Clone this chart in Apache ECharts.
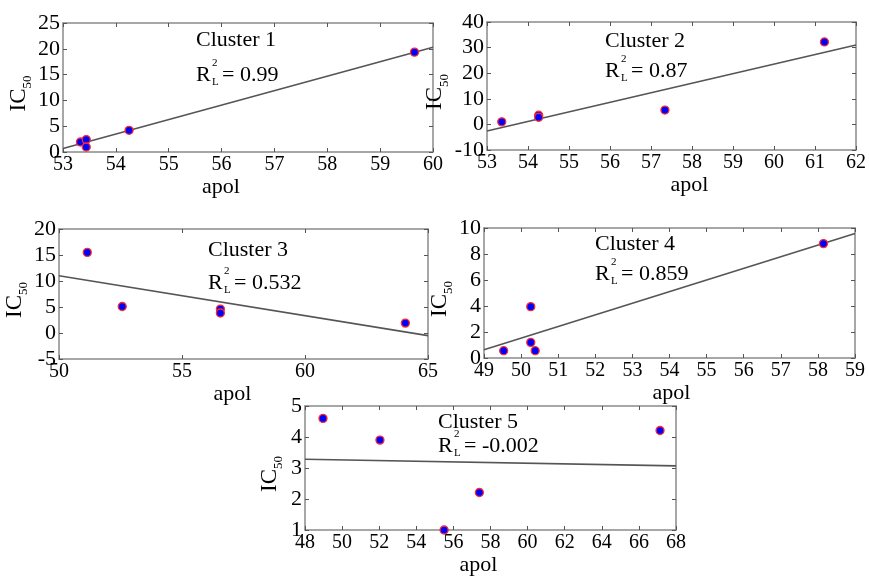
<!DOCTYPE html>
<html>
<head>
    <meta charset="UTF-8"/>
    <title>IC50 vs apol</title>
    <style>
        html, body { margin: 0; padding: 0; background: #fff; }
        #clusters { width: 869px; height: 577px; }
    </style>
</head>
<body>
<div id="clusters"></div>
<script type="text/javascript" src="https://cdn.jsdelivr.net/npm/echarts/dist/echarts.min.js"></script>
<script type="text/javascript">

    // values
    var clusterNames = ['Cluster 1', 'Cluster 2', 'Cluster 3', 'Cluster 4', 'Cluster 5'];
    var r2Values = ['0.99', '0.87', '0.532', '0.859', '-0.002'];

    var apol1 = [53.33, 53.44, 53.44, 54.25, 59.65];
    var ic1 = [1.94, 2.4, 0.97, 4.2, 19.35];
    var apol2 = [53.36, 54.26, 54.26, 57.34, 61.23];
    var ic2 = [1.0, 3.6, 2.8, 5.6, 32.2];
    var apol3 = [51.15, 52.57, 56.56, 56.56, 64.08];
    var ic3 = [15.5, 5.1, 4.6, 3.85, 1.9];
    var apol4 = [49.53, 50.26, 50.26, 50.38, 58.15];
    var ic4 = [0.56, 3.95, 1.2, 0.56, 8.8];
    var apol5 = [48.97, 52.04, 55.5, 57.4, 67.14];
    var ic5 = [4.6, 3.9, 1.0, 2.21, 4.21];

    // fitted lines, end points
    var fitX1 = [53, 60], fitY1 = [0.66, 20.3];
    var fitX2 = [53, 62], fitY2 = [-2.6, 31.0];
    var fitX3 = [50, 65], fitY3 = [11.0, -0.5];
    var fitX4 = [49, 59], fitY4 = [0.64, 9.57];
    var fitX5 = [48, 68], fitY5 = [3.28, 3.07];

    // axis ranges / ticks
    var xMin = [53, 53, 50, 49, 48];
    var xMax = [60, 62, 65, 59, 68];
    var xStep = [1, 1, 5, 1, 2];
    var yMin = [0, -10, -5, 0, 1];
    var yMax = [25, 40, 20, 10, 5];
    var yStep = [5, 10, 5, 2, 1];

    var apolList = [apol1, apol2, apol3, apol4, apol5];
    var icList = [ic1, ic2, ic3, ic4, ic5];
    var fitXList = [fitX1, fitX2, fitX3, fitX4, fitX5];
    var fitYList = [fitY1, fitY2, fitY3, fitY4, fitY5];

    // layout
    var grids = [
        {left: 63, top: 23, width: 370, height: 129},
        {left: 487, top: 22, width: 372, height: 128},
        {left: 59, top: 229, width: 369, height: 130},
        {left: 484, top: 228, width: 371, height: 130},
        {left: 305, top: 406, width: 371, height: 130}
    ];
    var apolShift = [-27, 18, -11, 2, -12];
    // [text left, title baseline, R baseline]
    var notes = [
        [196, 48, 83],
        [605, 49, 79],
        [208, 258, 291],
        [595, 252, 282],
        [438, 430, 454]
    ];

    var serif = 'Liberation Serif';
    var frame = {show: true, onZero: false, lineStyle: {color: '#8a8a8a', width: 1.5}};
    var ticks = {show: true, inside: true, length: 4, lineStyle: {color: '#555', width: 1}};

    const chart = echarts.init(document.getElementById('clusters'));

    var xAxes = [], yAxes = [], series = [], graphic = [];

    for (var i = 0; i < 5; i++) {
        var pad = apolShift[i] > 0 ? [0, 0, 0, 2 * apolShift[i]] : [0, -2 * apolShift[i], 0, 0];
        xAxes.push({
            type: 'value', gridIndex: i, position: 'bottom',
            min: xMin[i], max: xMax[i], interval: xStep[i],
            name: 'apol', nameLocation: 'middle', nameGap: 24,
            nameTextStyle: {fontFamily: serif, fontSize: 22, color: '#000', padding: pad},
            axisLine: frame, axisTick: ticks, splitLine: {show: false},
            axisLabel: {fontFamily: serif, fontSize: 20, color: '#000', margin: 3}
        });
        xAxes.push({
            type: 'value', gridIndex: i, position: 'top',
            min: xMin[i], max: xMax[i], interval: xStep[i],
            axisLine: frame, axisTick: ticks, splitLine: {show: false},
            axisLabel: {show: false}
        });
        yAxes.push({
            type: 'value', gridIndex: i, position: 'left',
            min: yMin[i], max: yMax[i], interval: yStep[i],
            name: '{a|IC}{b|50}', nameLocation: 'middle', nameGap: 24, nameRotate: 90,
            nameTextStyle: {
                padding: [0, 12, 0, 0],
                rich: {
                    a: {fontFamily: serif, fontSize: 23, color: '#000'},
                    b: {fontFamily: serif, fontSize: 13, color: '#000', verticalAlign: 'bottom', padding: [0, 0, -4, 0]}
                }
            },
            axisLine: frame, axisTick: ticks, splitLine: {show: false},
            axisLabel: {fontFamily: serif, fontSize: 22, color: '#000', margin: 3}
        });
        yAxes.push({
            type: 'value', gridIndex: i, position: 'right',
            min: yMin[i], max: yMax[i], interval: yStep[i],
            axisLine: frame, axisTick: ticks, splitLine: {show: false},
            axisLabel: {show: false}
        });

        var pts = [];
        for (var k = 0; k < apolList[i].length; k++) {
            pts.push([apolList[i][k], icList[i][k]]);
        }
        var fit = [[fitXList[i][0], fitYList[i][0]], [fitXList[i][1], fitYList[i][1]]];

        series.push({
            type: 'line', xAxisIndex: 2 * i, yAxisIndex: 2 * i,
            data: fit, symbol: 'none', silent: true, z: 2,
            lineStyle: {color: '#555', width: 1.6}
        });
        series.push({
            type: 'scatter', xAxisIndex: 2 * i, yAxisIndex: 2 * i,
            data: pts, symbolSize: 8, z: 3,
            itemStyle: {color: '#0000ff', borderColor: '#ff2a2a', borderWidth: 1.3, opacity: 1}
        });

        var n = notes[i];
        graphic.push({
            type: 'text', left: n[0], top: n[1] - 15 - 4,
            style: {text: clusterNames[i], font: '22px ' + serif, fill: '#000'}
        });
        graphic.push({
            type: 'text', left: n[0], top: n[2] - 15 - 4,
            style: {text: 'R', font: '22px ' + serif, fill: '#000'}
        });
        graphic.push({
            type: 'text', left: n[0] + 16, top: n[2] - 25,
            style: {text: '2', font: '11px ' + serif, fill: '#000'}
        });
        graphic.push({
            type: 'text', left: n[0] + 16, top: n[2] - 6,
            style: {text: 'L', font: '11px ' + serif, fill: '#000'}
        });
        graphic.push({
            type: 'text', left: n[0] + 26, top: n[2] - 15 - 4,
            style: {text: '= ' + r2Values[i], font: '22px ' + serif, fill: '#000'}
        });
    }

    chart.setOption({
        animation: false,
        grid: grids,
        xAxis: xAxes,
        yAxis: yAxes,
        series: series,
        graphic: graphic
    });
</script>
</body>
</html>
